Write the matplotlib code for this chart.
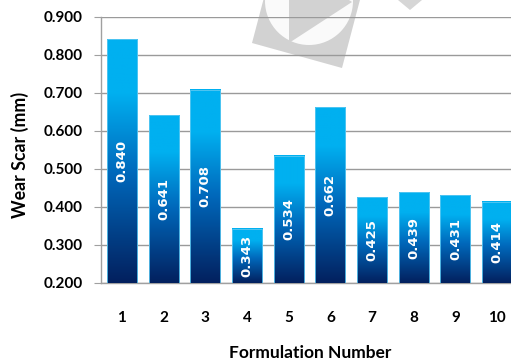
import numpy as np
import matplotlib
matplotlib.use("Agg")
import matplotlib.pyplot as plt
from matplotlib.colors import LinearSegmentedColormap
from matplotlib.patches import Polygon, Circle, Rectangle

# data
formulations = ["1", "2", "3", "4", "5", "6", "7", "8", "9", "10"]
wear_scar = [0.840, 0.641, 0.708, 0.343, 0.534, 0.662, 0.425, 0.439, 0.431, 0.414]
y_ticks = [0.2, 0.3, 0.4, 0.5, 0.6, 0.7, 0.8, 0.9]

W, H = 511, 362
fig = plt.figure(figsize=(W / 100, H / 100), dpi=100)

# faint logo in the background
bg = fig.add_axes([0, 0, 1, 1], zorder=0)
bg.set_xlim(0, W)
bg.set_ylim(H, 0)
bg.axis("off")
bg.add_patch(Polygon([(252, 43), (342, 68), (366, -23), (276, -48)],
                     closed=True, color="#d2d2d2", lw=0))
bg.add_patch(Circle((309, 1), 44, color="#fafafa", lw=0))
bg.add_patch(Polygon([(289, -40), (289, 43), (352, 2)], closed=True,
                     color="#d2d2d2", lw=0))
bg.add_patch(Polygon([(398, 0), (422, 0), (410, 10)], closed=True,
                     color="#d6d6d6", lw=0))

ax = fig.add_axes([101 / W, 79 / H, 417 / W, 266.5 / H], zorder=1)
ax.patch.set_alpha(0)

cmap = LinearSegmentedColormap.from_list(
    "bar", [(0.0, "#03205e"), (0.45, "#0068bb"), (0.78, "#00b0f0"), (1.0, "#00b0f0")])
grad = np.linspace(0, 1, 256).reshape(-1, 1)

x = np.arange(1, len(formulations) + 1)
bw = 0.72
base = 0.2
for xi, v in zip(x, wear_scar):
    ax.imshow(grad, cmap=cmap, origin="lower", aspect="auto",
              extent=[xi - bw / 2, xi + bw / 2, base, v], zorder=3)
    ax.add_patch(Rectangle((xi - bw / 2, base), bw, v - base, fill=False,
                           ec="#5cc8f2", lw=0.6, zorder=4))
    ax.text(xi, (base + v) / 2, f"{v:.3f}", rotation=90, ha="center",
            va="center", color="white", fontsize=9.5, fontweight="bold",
            family="DejaVu Sans", zorder=5)

ax.set_xlim(0.5, 10.5)
ax.set_ylim(0.2, 0.9)
ax.set_yticks(y_ticks)
ax.set_yticklabels([f"{t:.3f}" for t in y_ticks])
ax.set_xticks(x)
ax.set_xticklabels(formulations)
ax.yaxis.grid(True, color="#9a9a9a", lw=1.0, zorder=1)
ax.set_axisbelow(True)
for s in ["top", "right"]:
    ax.spines[s].set_visible(False)
for s in ["left", "bottom"]:
    ax.spines[s].set_color("#a0a0a0")
    ax.spines[s].set_linewidth(1.0)
ax.tick_params(axis="y", length=5, color="#a0a0a0", pad=8)
ax.tick_params(axis="x", length=0, pad=20)
for lab in ax.get_xticklabels() + ax.get_yticklabels():
    lab.set_family("Lato")
    lab.set_fontweight("bold")
    lab.set_fontsize(11)

fig.text(20 / W, 1 - 155 / H, "Wear Scar (mm)", rotation=90, ha="center",
         va="center", family="Lato", fontweight="bold", fontsize=12.8)
fig.text(310 / W, 1 - 353 / H, "Formulation Number", ha="center",
         va="center", family="Lato", fontweight="bold", fontsize=12.5)

fig.savefig("out.png", dpi=100)
